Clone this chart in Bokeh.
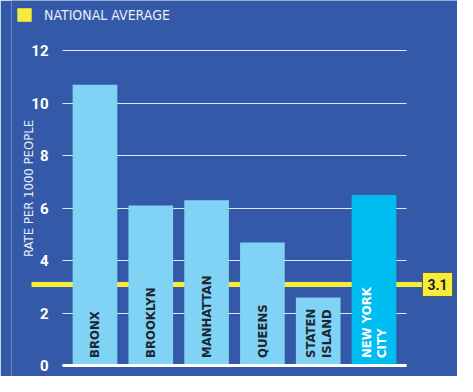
from math import pi
from bokeh.plotting import figure
from bokeh.models import (ColumnDataSource, FactorRange, Range1d, FixedTicker, Grid,
                          Label, Legend, LegendItem)
from bokeh.core.properties import value
from bokeh.embed import file_html
from bokeh.resources import INLINE

# ---- data ----
boroughs = ["BRONX", "BROOKLYN", "MANHATTAN", "QUEENS", "STATEN\nISLAND", "NEW YORK\nCITY"]
rates = [10.7, 6.1, 6.3, 4.7, 2.6, 6.5]
national_average = 3.1
y_ticks = [0, 2, 4, 6, 8, 10, 12]
legend_label = "NATIONAL AVERAGE"
y_title = "RATE PER 1000 PEOPLE"

# ---- style ----
BG = "#3459A8"
LIGHT = "#80D3F5"
CITY = "#00BDF1"
YELLOW = "#F8EC3B"
DARK = "#1C2633"
COND = "DejaVu Sans Condensed, Roboto, sans-serif"

# layout (synthetic x units of the factor range)
AXIS_X = -0.082
GRID_BOUNDS = (-0.082, 6.083)
AVG_BOUNDS = (-0.638, 6.423)

bar_colors = [LIGHT] * (len(boroughs) - 1) + [CITY]
text_colors = [DARK] * (len(boroughs) - 1) + ["#FFFFFF"]

src = ColumnDataSource(dict(borough=boroughs, rate=rates, color=bar_colors,
                            label=boroughs, tcolor=text_colors))

p = figure(x_range=FactorRange(*boroughs, range_padding=0.332),
           y_range=Range1d(-0.4, 13.9),
           width=457, height=376, output_backend="svg", toolbar_location=None,
           min_border_left=11, min_border_right=0, min_border_top=0, min_border_bottom=0,
           background_fill_color=BG, border_fill_color=BG, outline_line_color=None)

p.xaxis.visible = False
p.xgrid.visible = False
p.ygrid.ticker = FixedTicker(ticks=y_ticks)
p.ygrid.grid_line_color = "#E3E9F4"
p.ygrid.grid_line_width = 1.2
p.ygrid.cross_bounds = GRID_BOUNDS

# national average line: under the bars
avg_grid = Grid(dimension=1, ticker=FixedTicker(ticks=[national_average]),
                grid_line_color=YELLOW, grid_line_width=5, cross_bounds=AVG_BOUNDS,
                level="underlay")
p.add_layout(avg_grid)

ya = p.yaxis[0]
ya.fixed_location = AXIS_X
ya.ticker = FixedTicker(ticks=y_ticks)
ya.axis_line_color = None
ya.major_tick_line_color = None
ya.minor_tick_line_color = None
ya.major_label_standoff = 8
ya.major_label_text_color = "#FFFFFF"
ya.major_label_text_font = "Roboto"
ya.major_label_text_font_style = "bold"
ya.major_label_text_font_size = "15px"
ya.axis_label = y_title
ya.axis_label_standoff = -8
ya.axis_label_text_font = COND
ya.axis_label_text_font_style = "normal"
ya.axis_label_text_font_size = "13px"
ya.axis_label_text_color = "#E6ECF6"

bars = p.vbar(x="borough", top="rate", width=0.8, source=src, fill_color="color",
              line_color=None)

# baseline
base = Grid(dimension=1, ticker=FixedTicker(ticks=[0]), grid_line_color="#FFFFFF",
            grid_line_width=3, cross_bounds=GRID_BOUNDS, level="annotation")
p.add_layout(base)

p.text(x="borough", y=0, text="label", source=src, angle=pi / 2, y_offset=-8,
       text_align="left", text_baseline="middle", text_color="tcolor",
       text_font=value(COND), text_font_style="bold", text_font_size="13px",
       text_line_height=1.05)

# value box for national average
p.add_layout(Label(x=426, y=national_average, x_units="screen", y_units="data",
                   text=f"{national_average}", text_align="center", text_baseline="middle",
                   text_font="Roboto", text_font_style="bold", text_font_size="14px",
                   text_color="#1E1E1E", background_fill_color=YELLOW,
                   border_line_color="#5A5A5A", border_line_width=1,
                   padding=dict(left=5, right=5, top=7, bottom=6)))

# legend (swatch renderer: a zero-height bar hidden under the baseline)
legend_src = ColumnDataSource(dict(x=boroughs[:1], top=[0]))
swatch = p.vbar(x="x", top="top", width=0.8, source=legend_src, fill_color=YELLOW,
                line_color=None)
legend = Legend(items=[LegendItem(label=legend_label, renderers=[swatch])],
                location=(4, 353), orientation="horizontal",
                glyph_width=18, glyph_height=17, label_standoff=11,
                padding=0, margin=0, spacing=0,
                background_fill_alpha=0, border_line_color=None,
                label_text_color="#E8EDF6", label_text_font_size="14px",
                label_text_font=COND)
p.add_layout(legend)

open("out.html", "w").write(file_html(p, INLINE))
